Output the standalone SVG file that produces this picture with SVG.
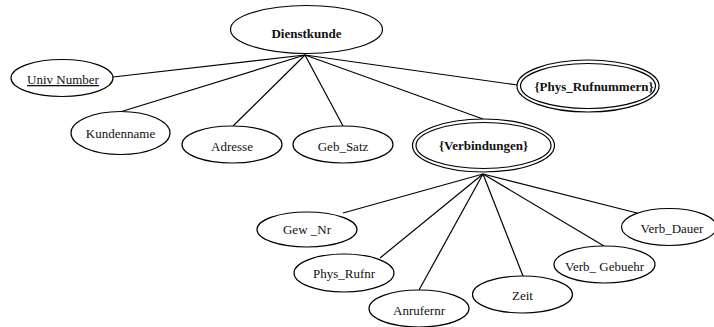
<svg xmlns="http://www.w3.org/2000/svg" width="714" height="327" viewBox="0 0 714 327">
  <style>
    .shape { fill: #ffffff; stroke: #000000; stroke-width: 1.2; }
    .edge { stroke: #000000; stroke-width: 1.2; fill: none; }
    .label { font-size: 13px; fill: #111111; text-anchor: middle; }
    .bold { font-weight: bold; }
  </style>
  <rect width="714" height="327" fill="#ffffff"/>

  <!-- connectors -->
  <g id="connectors">
    <line class="edge" x1="305" y1="55" x2="113" y2="77"/>
    <line class="edge" x1="305" y1="55" x2="120" y2="112"/>
    <line class="edge" x1="305" y1="55" x2="233" y2="126"/>
    <line class="edge" x1="305" y1="55" x2="343" y2="126"/>
    <line class="edge" x1="305" y1="55" x2="483" y2="119"/>
    <line class="edge" x1="305" y1="55" x2="517" y2="85"/>
    <line class="edge" x1="483" y1="174" x2="343" y2="213"/>
    <line class="edge" x1="483" y1="174" x2="380" y2="258"/>
    <line class="edge" x1="483" y1="174" x2="419" y2="290"/>
    <line class="edge" x1="483" y1="174" x2="523" y2="276"/>
    <line class="edge" x1="483" y1="174" x2="604" y2="246"/>
    <line class="edge" x1="483" y1="174" x2="637" y2="213"/>
  </g>

  <g font-family="'Liberation Serif', 'DejaVu Serif', serif">
  <!-- entity -->
  <g id="dienstkunde">
    <ellipse class="shape" cx="306.5" cy="29.5" rx="76" ry="24"/>
    <text class="label bold" x="306.5" y="38">Dienstkunde</text>
  </g>

  <!-- attributes of Dienstkunde -->
  <g id="univ-number">
    <ellipse class="shape" cx="62" cy="78" rx="51" ry="18.5"/>
    <text class="label" x="63" y="84" text-decoration="underline">Univ Number</text>
  </g>
  <g id="kundenname">
    <ellipse class="shape" cx="120.5" cy="133" rx="49.5" ry="21.5"/>
    <text class="label" x="120.5" y="137.5">Kundenname</text>
  </g>
  <g id="adresse">
    <ellipse class="shape" cx="232" cy="144.5" rx="50" ry="18.5"/>
    <text class="label" x="232" y="151">Adresse</text>
  </g>
  <g id="geb-satz">
    <ellipse class="shape" cx="343" cy="144.5" rx="50" ry="18.5"/>
    <text class="label" x="343" y="151">Geb_Satz</text>
  </g>

  <!-- multivalued attributes (double outline) -->
  <g id="phys-rufnummern">
    <ellipse class="shape" cx="588" cy="86" rx="71" ry="26"/>
    <ellipse class="shape" cx="588" cy="86" rx="67.5" ry="22.5"/>
    <text class="label bold" x="594" y="90.5" textLength="119" lengthAdjust="spacingAndGlyphs">{Phys_Rufnummern}</text>
  </g>
  <g id="verbindungen">
    <ellipse class="shape" cx="483.5" cy="145.5" rx="71" ry="26.5"/>
    <ellipse class="shape" cx="483.5" cy="145.5" rx="67.5" ry="23"/>
    <text class="label bold" x="483.5" y="150">{Verbindungen}</text>
  </g>

  <!-- attributes of Verbindungen -->
  <g id="gew-nr">
    <ellipse class="shape" cx="307" cy="229.5" rx="50" ry="17.5"/>
    <text class="label" x="307" y="234">Gew _Nr</text>
  </g>
  <g id="phys-rufnr">
    <ellipse class="shape" cx="344" cy="273" rx="50" ry="19"/>
    <text class="label" x="344" y="278">Phys_Rufnr</text>
  </g>
  <g id="anrufernr">
    <ellipse class="shape" cx="419" cy="308.5" rx="50" ry="18.5"/>
    <text class="label" x="419" y="315">Anrufernr</text>
  </g>
  <g id="zeit">
    <ellipse class="shape" cx="522.5" cy="294.5" rx="50" ry="18.5"/>
    <text class="label" x="522.5" y="300">Zeit</text>
  </g>
  <g id="verb-gebuehr">
    <ellipse class="shape" cx="604.5" cy="264.5" rx="50.5" ry="18.5"/>
    <text class="label" x="604.5" y="271">Verb_ Gebuehr</text>
  </g>
  <g id="verb-dauer">
    <ellipse class="shape" cx="669" cy="227" rx="47.5" ry="18.5"/>
    <text class="label" x="672" y="233">Verb_Dauer</text>
  </g>
  </g>
</svg>
